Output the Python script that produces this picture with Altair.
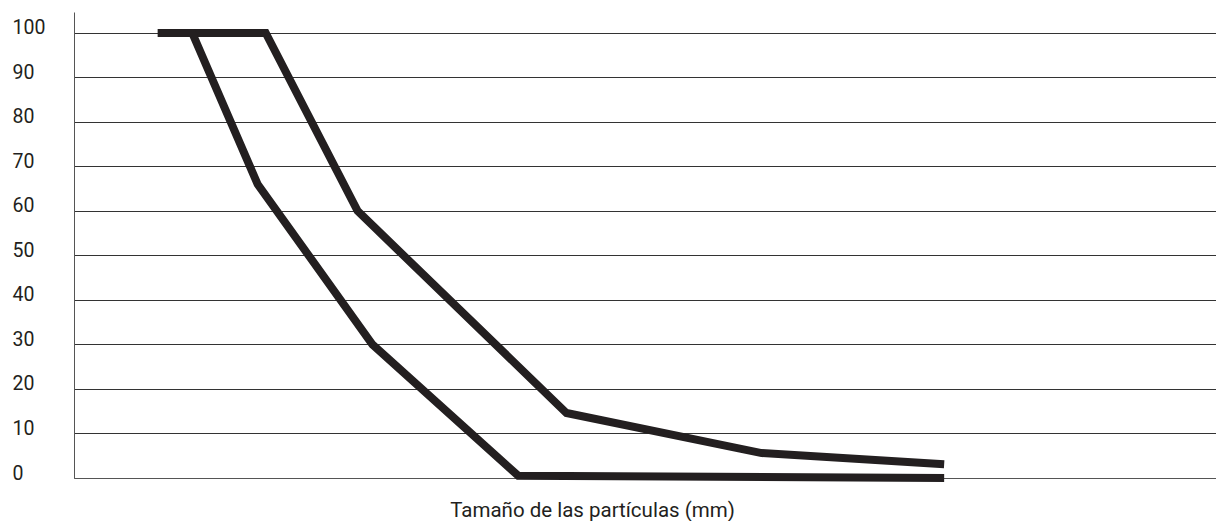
import altair as alt
import pandas as pd

# Upper (coarse) envelope
upper_x = [7.3, 16.7, 24.7, 42.9, 59.9, 75.8]
upper_y = [100, 100, 60, 14.6, 5.6, 3.1]
# Lower (fine) envelope
lower_x = [7.3, 10.3, 16.0, 26.0, 38.7, 75.8]
lower_y = [100, 100, 66, 30, 0.5, 0]

y_ticks = [0, 10, 20, 30, 40, 50, 60, 70, 80, 90, 100]

rows = []
for i, (x, y) in enumerate(zip(upper_x, upper_y)):
    rows.append({"serie": "superior", "orden": i, "x": x, "y": y})
for i, (x, y) in enumerate(zip(lower_x, lower_y)):
    rows.append({"serie": "inferior", "orden": i, "x": x, "y": y})
df = pd.DataFrame(rows)

FONT = "Roboto"
INK = "#231f20"

chart = alt.Chart(df).mark_line(
    strokeWidth=8, color=INK, strokeCap="butt", strokeJoin="miter"
).encode(
    x=alt.X("x:Q", scale=alt.Scale(domain=[0, 99.48], nice=False, zero=False),
            axis=alt.Axis(title="Tamaño de las partículas (mm)", labels=False, ticks=False,
                          grid=False, domain=True, domainColor="#555555", domainWidth=1,
                          titleFont=FONT, titleFontSize=20.5, titleFontWeight="normal",
                          titleColor=INK, titleX=518, titleY=38, titleAlign="center",
                          titleBaseline="alphabetic")),
    y=alt.Y("y:Q", scale=alt.Scale(domain=[0, 104.7], nice=False, zero=True),
            axis=alt.Axis(title=None, values=y_ticks, ticks=False, tickSize=0,
                          grid=True, gridColor="#333333", gridWidth=1, gridOpacity=1,
                          domain=True, domainColor="#555555", domainWidth=1,
                          labelFont=FONT, labelFontSize=19.5, labelColor=INK,
                          labelAlign="left", labelPadding=62, labelBaseline="alphabetic",
                          labelOffset=1)),
    detail="serie:N",
    order="orden:Q",
).properties(
    width=1142, height=466,
    background="white",
    autosize=alt.AutoSizeParams(type="none"),
    padding={"left": 66, "top": 4, "right": 0, "bottom": 43},
).configure_view(stroke=None)

chart.save("out.html", embed_options={"renderer": "svg", "actions": False})
